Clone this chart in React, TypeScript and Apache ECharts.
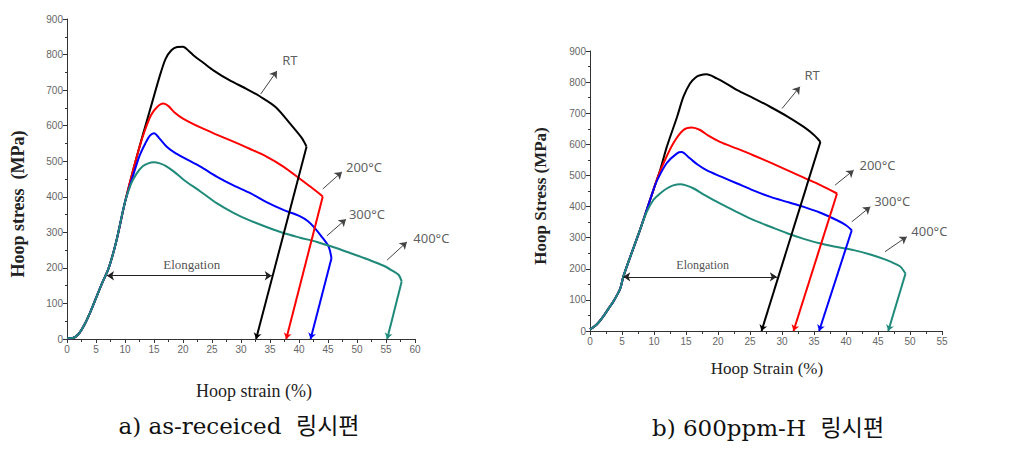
import React, { useEffect, useRef } from "react";
import * as echarts from "echarts";

// ---------- (a) as-received ----------
const toeA: number[][] = [[0, 2], [1, 3], [2, 14], [3, 40], [4, 75], [5, 115], [6, 155], [7.2, 200], [8.5, 275], [10, 385]];
const rtA: number[][] = [...toeA, [11.5, 481], [13, 570], [14.5, 655], [16, 740], [17, 788], [18, 812], [19, 821], [20, 822], [21, 810], [22, 795], [23.5, 777], [25.3, 755], [28, 728], [31, 703], [33.3, 682], [36, 652], [38.5, 605], [40.5, 565], [41.3, 541]];
const c200A: number[][] = [...toeA, [11.5, 481], [12.5, 540], [13.5, 590], [14.5, 630], [15.5, 652], [16.6, 662], [17.5, 655], [18.5, 638], [20, 620], [23, 595], [25.8, 575], [28.7, 555], [31.5, 535], [34.4, 513], [37.3, 485], [40.2, 450], [42, 428], [44.1, 401]];
const c300A: number[][] = [...toeA, [11.5, 465], [12.5, 515], [13.5, 550], [14.3, 572], [15, 579], [16, 563], [17.2, 541], [18.5, 525], [20.1, 510], [23, 485], [25.8, 457], [28.7, 432], [31.6, 410], [34.4, 385], [37.3, 363], [40.2, 345], [41.5, 332], [42.5, 316], [43.8, 290], [45.1, 260], [45.6, 227]];
const c400A: number[][] = [...toeA, [11, 435], [12, 465], [13, 485], [14, 494], [15, 497], [16, 494], [17, 487], [18.5, 470], [20.1, 448], [23, 415], [25.8, 382], [28.7, 355], [31.6, 333], [34.4, 315], [37.3, 298], [40.2, 285], [43.1, 273], [46, 258], [48.8, 242], [51.7, 225], [54.6, 206], [56.3, 190], [57.2, 180], [57.7, 162]];
const unloadEndA: number[] = [32.6, 37.8, 42.0, 55.2];

// ---------- (b) 600ppm-H ----------
const toeB: number[][] = [[0, 5], [1, 20], [2, 45], [3, 75], [3.65, 95], [4.7, 135], [5.2, 174], [6.3, 239], [7.8, 324]];
const rtB: number[][] = [...toeB, [9.9, 453], [11, 520], [12, 592], [13.6, 688], [14.6, 753], [15.6, 795], [16.5, 815], [17.2, 822], [18.2, 825], [19.8, 812], [21.5, 793], [23, 774], [25.6, 748], [28.2, 720], [30.8, 690], [33.4, 656], [35, 630], [36, 608]];
const c200B: number[][] = [...toeB, [9.9, 453], [10.5, 490], [11.5, 540], [13, 603], [14.6, 646], [15.9, 654], [17.2, 646], [18.5, 628], [20.3, 608], [23, 586], [25.5, 565], [28.2, 541], [30.8, 517], [33.4, 493], [36, 469], [38.6, 442]];
const c300B: number[][] = [...toeB, [9.9, 453], [10.5, 485], [12, 540], [13.6, 571], [14.3, 575], [15.6, 555], [16.8, 535], [18.2, 517], [20.5, 496], [23, 474], [25.5, 452], [28.2, 431], [30.8, 415], [33.4, 399], [36, 380], [38.6, 356], [40, 340], [40.9, 324]];
const c400B: number[][] = [...toeB, [8.8, 380], [9.9, 421], [11, 443], [12, 458], [13, 468], [14.1, 472], [15, 468], [16.2, 458], [18, 436], [20.3, 410], [23, 382], [25.5, 357], [28.2, 335], [30.8, 314], [33.4, 296], [36, 281], [38.6, 270], [41.2, 260], [43.8, 246], [46.4, 228], [47.8, 215], [48.5, 207], [49.3, 185]];
const unloadEndB: number[] = [26.8, 31.8, 35.8, 46.6];

// ---------- annotations (data coordinates) ----------
const seriesNames = ["RT", "200°C", "300°C", "400°C"];
const labelPosA: number[][] = [[37.1, 785], [48.1, 484], [48.6, 351], [59.7, 284]];
const arrowA: number[][][] = [[[33.4, 689], [36.2, 754]], [[44.1, 422], [47.4, 470]], [[44.8, 290], [48.1, 337]], [[55.2, 222], [58.6, 273]]];
const labelPosB: number[][] = [[33.5, 822], [42.1, 533], [44.4, 419], [50.2, 321]];
const arrowB: number[][][] = [[[30.0, 715], [32.8, 785]], [[38.3, 469], [41.2, 517]], [[40.9, 351], [43.8, 399]], [[46.1, 255], [49.5, 303]]];
const elongA: number[][] = [[6.9, 178], [35.3, 178]];
const elongTextA: number[] = [21.5, 209];
const elongB: number[][] = [[5.2, 174], [29.2, 174]];
const elongTextB: number[] = [17.6, 212];

const colors = ["#000000", "#ff0000", "#0000ff", "#1f8a7a"];

export default function App() {
  const ref = useRef<HTMLDivElement>(null);
  useEffect(() => {
    const chart = echarts.init(ref.current!, null, { renderer: "svg" });
    const curvesA = [rtA, c200A, c300A, c400A];
    const curvesB = [rtB, c200B, c300B, c400B];

    const mkCurve = (data: number[][], idx: number, color: string, endX: number) => ({
      type: "line",
      xAxisIndex: idx,
      yAxisIndex: idx,
      data,
      smooth: 0.3,
      showSymbol: false,
      symbol: "none",
      lineStyle: { color, width: 2 },
      silent: true,
      markLine: {
        silent: true,
        symbol: ["none", "arrow"],
        symbolSize: 6,
        label: { show: false },
        lineStyle: { color, width: 2, type: "solid" },
        data: [[{ coord: data[data.length - 1] }, { coord: [endX, 0] }]],
      },
    });

    const mkAnno = (idx: number, labels: number[][], arrows: number[][][], elong: number[][], elongText: number[], elongSize: number) => ({
      type: "scatter",
      xAxisIndex: idx,
      yAxisIndex: idx,
      symbolSize: 0,
      clip: false,
      silent: true,
      data: [
        ...labels.map((p, i) => ({
          value: p,
          name: seriesNames[i],
          label: { show: true, position: "right", distance: 0, formatter: "{b}", fontFamily: "Noto Sans", fontSize: 13, color: "#333" },
        })),
        {
          value: elongText,
          name: "Elongation",
          label: { show: true, position: "inside", formatter: "{b}", fontFamily: "Liberation Serif", fontSize: elongSize, color: "#222" },
        },
      ],
      markLine: {
        silent: true,
        symbolSize: 7,
        label: { show: false },
        lineStyle: { color: "#444", width: 1, type: "solid" },
        data: [
          ...arrows.map((a) => [{ coord: a[0], symbol: "none" }, { coord: a[1], symbol: "arrow" }]),
          [{ coord: elong[0], symbol: "arrow", lineStyle: { color: "#222" } }, { coord: elong[1], symbol: "arrow" }],
        ],
      },
    });

    const xAxisBase = (max: number) => ({
      type: "value",
      min: 0,
      max,
      interval: 5,
      axisLine: { show: true, onZero: false, lineStyle: { color: "#333", width: 1 } },
      axisTick: { show: true, length: 4, lineStyle: { color: "#333" } },
      minorTick: { show: true, splitNumber: 2, length: 3, lineStyle: { color: "#333" } },
      splitLine: { show: false },
      axisLabel: { fontSize: 10, color: "#666", fontFamily: "Liberation Sans", margin: 5 },
    });
    const yAxisBase = () => ({
      type: "value",
      min: 0,
      max: 900,
      interval: 100,
      axisLine: { show: true, lineStyle: { color: "#333", width: 1 } },
      axisTick: { show: true, length: 4, lineStyle: { color: "#333" } },
      minorTick: { show: true, splitNumber: 2, length: 2, lineStyle: { color: "#333" } },
      splitLine: { show: false },
      axisLabel: { fontSize: 10, color: "#666", fontFamily: "Liberation Sans", margin: 4 },
    });

    chart.setOption({
      animation: false,
      backgroundColor: "#ffffff",
      grid: [
        { left: 67, top: 19, width: 348, height: 320 },
        { left: 590, top: 51, width: 352, height: 280 },
      ],
      xAxis: [{ ...xAxisBase(60), gridIndex: 0 }, { ...xAxisBase(55), gridIndex: 1 }],
      yAxis: [{ ...yAxisBase(), gridIndex: 0 }, { ...yAxisBase(), gridIndex: 1 }],
      series: [
        ...curvesA.map((d, i) => mkCurve(d, 0, colors[i], unloadEndA[i])),
        ...curvesB.map((d, i) => mkCurve(d, 1, colors[i], unloadEndB[i])),
        mkAnno(0, labelPosA, arrowA, elongA, elongTextA, 13),
        mkAnno(1, labelPosB, arrowB, elongB, elongTextB, 12),
      ],
      graphic: [
        {
          type: "text", x: 18, y: 204, rotation: Math.PI / 2,
          style: { text: "Hoop stress  (MPa)", fontFamily: "Liberation Serif", fontWeight: "bold", fontSize: 18, fill: "#222", textAlign: "center", textVerticalAlign: "middle" },
        },
        {
          type: "text", x: 540, y: 196, rotation: Math.PI / 2,
          style: { text: "Hoop Stress (MPa)", fontFamily: "Liberation Serif", fontWeight: "bold", fontSize: 17, fill: "#222", textAlign: "center", textVerticalAlign: "middle" },
        },
        {
          type: "text", x: 254, y: 391,
          style: { text: "Hoop strain (%)", fontFamily: "Liberation Serif", fontSize: 18, fill: "#222", textAlign: "center", textVerticalAlign: "middle" },
        },
        {
          type: "text", x: 767, y: 368,
          style: { text: "Hoop Strain (%)", fontFamily: "Liberation Serif", fontSize: 17, fill: "#222", textAlign: "center", textVerticalAlign: "middle" },
        },
        {
          type: "text", x: 239, y: 426,
          style: { text: "a) as-receiced  링시편", fontFamily: "DejaVu Serif, Noto Sans CJK KR", fontSize: 23, fill: "#111", textAlign: "center", textVerticalAlign: "middle" },
        },
        {
          type: "text", x: 768, y: 428,
          style: { text: "b) 600ppm-H  링시편", fontFamily: "DejaVu Serif, Noto Sans CJK KR", fontSize: 23, fill: "#111", textAlign: "center", textVerticalAlign: "middle" },
        },
      ],
    });
    return () => chart.dispose();
  }, []);
  return <div ref={ref} style={{ position: "fixed", left: 0, top: 0, width: 1034, height: 455 }} />;
}
